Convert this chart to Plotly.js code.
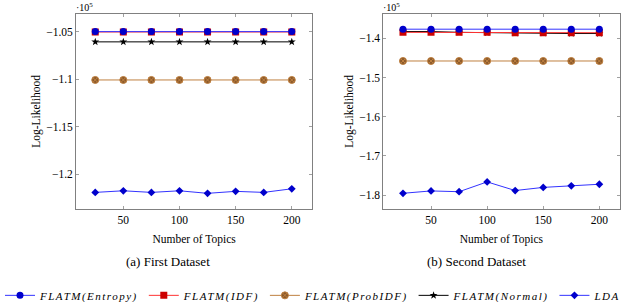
<!DOCTYPE html>
<html><head><meta charset="utf-8">
<script src="https://cdn.plot.ly/plotly-3.0.1.min.js"></script>
<style>html,body{margin:0;padding:0;background:#fff}#chart{width:640px;height:302px}
text.legendtext{letter-spacing:1.5px}</style>
</head><body><div id="chart"></div>
<script>
// Number of topics
const topics = [25, 50, 75, 100, 125, 150, 175, 200];
// First dataset (units of 1e5)
const d1Entropy = [-1.0497, -1.0497, -1.0497, -1.0497, -1.0497, -1.0497, -1.0497, -1.0497];
const d1IDF     = [-1.0501, -1.0501, -1.0501, -1.0501, -1.0501, -1.0501, -1.0501, -1.0501];
const d1ProbIDF = [-1.1007, -1.1007, -1.1007, -1.1007, -1.1007, -1.1007, -1.1007, -1.1007];
const d1Normal  = [-1.0605, -1.0605, -1.0605, -1.0605, -1.0605, -1.0605, -1.0605, -1.0605];
const d1LDA     = [-1.2193, -1.2176, -1.2193, -1.2176, -1.2203, -1.2182, -1.2193, -1.2155];
// Second dataset (units of 1e5)
const d2Entropy = [-1.377, -1.377, -1.377, -1.377, -1.377, -1.377, -1.377, -1.377];
const d2IDF     = [-1.385, -1.385, -1.385, -1.385, -1.386, -1.386, -1.386, -1.386];
const d2ProbIDF = [-1.458, -1.458, -1.458, -1.458, -1.458, -1.458, -1.458, -1.458];
const d2Normal  = [-1.383, -1.383, -1.385, -1.386, -1.387, -1.387, -1.388, -1.388];
const d2LDA     = [-1.795, -1.789, -1.791, -1.766, -1.788, -1.780, -1.776, -1.772];
// Tick labels
const xTicks = [50, 100, 150, 200];
const y1Ticks = [-1.2, -1.15, -1.1, -1.05];
const y1TickText = ['\u22121.2', '\u22121.15', '\u22121.1', '\u22121.05'];
const y2Ticks = [-1.8, -1.7, -1.6, -1.5, -1.4];
const y2TickText = ['\u22121.8', '\u22121.7', '\u22121.6', '\u22121.5', '\u22121.4'];
const seriesNames = ['FLATM(Entropy)', 'FLATM(IDF)', 'FLATM(ProbIDF)', 'FLATM(Normal)', 'LDA'];
const captions = ['(a) First Dataset', '(b) Second Dataset'];

const styles = [
  {line: {color: '#3333ff', width: 1}, marker: {symbol: 'circle', size: 7, color: '#0000cc'}},
  {line: {color: '#ff3333', width: 1}, marker: {symbol: 'square', size: 7, color: '#cc0000'}},
  {line: {color: '#bf8040', width: 1}, marker: {symbol: 'circle-x', size: 7, color: '#8c5a2a', line: {color: '#bf8040', width: 1}}},
  {line: {color: '#000000', width: 1}, marker: {symbol: 'star', size: 6, color: '#000000'}},
  {line: {color: '#3333ff', width: 1}, marker: {symbol: 'diamond', size: 6, color: '#0000cc'}}
];

const sets = [[d1Entropy, d1IDF, d1ProbIDF, d1Normal, d1LDA], [d2Entropy, d2IDF, d2ProbIDF, d2Normal, d2LDA]];
const order = [4, 2, 3, 1, 0];
const traces = [];
sets.forEach((set, si) => {
  order.forEach(k => {
    traces.push({
      x: topics, y: set[k], type: 'scatter', mode: 'lines+markers',
      name: '<i>' + seriesNames[k] + '</i>', legendrank: k + 1,
      showlegend: si === 0,
      xaxis: si === 0 ? 'x' : 'x2', yaxis: si === 0 ? 'y' : 'y2',
      line: styles[k].line, marker: styles[k].marker
    });
  });
});

const fam = 'Liberation Serif';
const font = {family: fam, color: '#000'};
const axBase = {
  showgrid: false, zeroline: false, showline: true, linecolor: '#808080', linewidth: 1,
  mirror: 'ticks', ticks: 'inside', ticklen: 3, tickcolor: '#a0a0a0', automargin: false,
  tickfont: {family: fam, size: 11.5, color: '#000'}
};
const layout = {
  width: 640, height: 302, margin: {l: 0, r: 0, t: 0, b: 0, autoexpand: false},
  paper_bgcolor: '#fff', plot_bgcolor: '#fff', font: font,
  showlegend: true,
  legend: {orientation: 'h', x: 0, xanchor: 'left', y: 0.022, yanchor: 'middle',
    font: {family: fam, size: 11, color: '#000'}, itemwidth: 30, traceorder: 'normal'},
  xaxis: Object.assign({}, axBase, {domain: [0.119, 0.4875], range: [8, 218], tickvals: xTicks, anchor: 'y',
    title: {text: 'Number of Topics', font: {family: fam, size: 11.5}, standoff: 10}}),
  yaxis: Object.assign({}, axBase, {domain: [0.308, 0.954], range: [-1.2368, -1.031], tickvals: y1Ticks, ticktext: y1TickText, anchor: 'x',
    title: {text: 'Log-Likelihood', font: {family: fam, size: 11.5}, standoff: 3}}),
  xaxis2: Object.assign({}, axBase, {domain: [0.599, 0.968], range: [7.5, 218], tickvals: xTicks, anchor: 'y2',
    title: {text: 'Number of Topics', font: {family: fam, size: 11.5}, standoff: 10}}),
  yaxis2: Object.assign({}, axBase, {domain: [0.308, 0.954], range: [-1.835, -1.338], tickvals: y2Ticks, ticktext: y2TickText, anchor: 'x2',
    title: {text: 'Log-Likelihood', font: {family: fam, size: 11.5}, standoff: 3}}),
  annotations: [
    {text: '\u00b710<sup>5</sup>', xref: 'paper', yref: 'paper', x: 0.117, y: 1, xanchor: 'left', yanchor: 'top', showarrow: false, borderpad: 0, font: {family: fam, size: 10}},
    {text: '\u00b710<sup>5</sup>', xref: 'paper', yref: 'paper', x: 0.597, y: 1, xanchor: 'left', yanchor: 'top', showarrow: false, borderpad: 0, font: {family: fam, size: 10}},
    {text: captions[0], xref: 'paper', yref: 'paper', x: 0.263, y: 0.135, xanchor: 'center', yanchor: 'middle', showarrow: false, font: {family: fam, size: 13}},
    {text: captions[1], xref: 'paper', yref: 'paper', x: 0.744, y: 0.135, xanchor: 'center', yanchor: 'middle', showarrow: false, font: {family: fam, size: 13}}
  ]
};
Plotly.newPlot('chart', traces, layout, {displayModeBar: false, staticPlot: true});
</script></body></html>
